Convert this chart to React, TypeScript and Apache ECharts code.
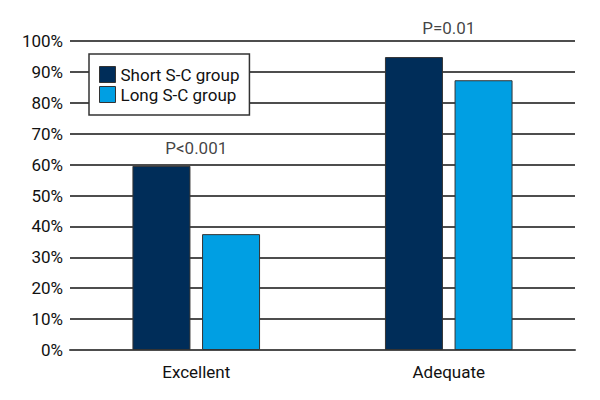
import React, { useEffect, useRef } from "react";
import * as echarts from "echarts";

const categories = ["Excellent", "Adequate"];
const shortGroup = [59.6, 94.8];
const longGroup = [37.5, 87.3];
const yTicks = [0, 10, 20, 30, 40, 50, 60, 70, 80, 90, 100];
const pLabels = ["P<0.001", "P=0.01"];
const pLabelY = [65.5, 104.2];

const FONT = "Roboto, 'DejaVu Sans Condensed', sans-serif";
const FS = 17;

export default function App() {
  const ref = useRef<HTMLDivElement>(null);
  useEffect(() => {
    if (!ref.current) return;
    const chart = echarts.init(ref.current, undefined, { renderer: "svg" });
    chart.setOption({
      animation: false,
      backgroundColor: "#ffffff",
      textStyle: { fontFamily: FONT },
      grid: { left: 70, right: 25, top: 41, bottom: 50, containLabel: false },
      legend: {
        data: ["Short S-C group", "Long S-C group"],
        orient: "vertical",
        left: 89,
        top: 54,
        itemWidth: 16,
        itemHeight: 16,
        itemGap: 3,
        padding: [12, 10, 12, 10],
        backgroundColor: "#ffffff",
        borderColor: "#333333",
        borderWidth: 1.5,
        borderRadius: 0,
        icon: "rect",
        itemStyle: { borderColor: "#333", borderWidth: 1 },
        textStyle: { fontFamily: FONT, fontSize: FS, color: "#111" },
      },
      xAxis: {
        type: "category",
        data: categories,
        axisLine: { show: true, lineStyle: { color: "#4d4d4d", width: 2 } },
        axisTick: { show: false },
        axisLabel: { fontFamily: FONT, fontSize: FS, color: "#111", margin: 13 },
      },
      yAxis: {
        type: "value",
        min: yTicks[0],
        max: yTicks[yTicks.length - 1],
        interval: 10,
        axisLine: { show: false },
        axisTick: { show: false },
        splitLine: { lineStyle: { color: "#4d4d4d", width: 2 } },
        axisLabel: {
          fontFamily: FONT,
          fontSize: FS,
          color: "#111",
          margin: 7,
          formatter: (v: number) => `${v}%`,
        },
      },
      series: [
        {
          name: "Short S-C group",
          type: "bar",
          data: shortGroup,
          barWidth: 58,
          barGap: "20%",
          itemStyle: { color: "#002d59", borderColor: "#333", borderWidth: 1 },
          z: 3,
        },
        {
          name: "Long S-C group",
          type: "bar",
          data: longGroup,
          barWidth: 58,
          barGap: "20%",
          itemStyle: { color: "#009fe3", borderColor: "#333", borderWidth: 1 },
          z: 3,
        },
        {
          name: "P",
          type: "scatter",
          data: categories.map((c, i) => [c, pLabelY[i]]),
          symbolSize: 0,
          clip: false,
          silent: true,
          label: {
            show: true,
            position: "inside",
            fontFamily: FONT,
            fontSize: FS,
            color: "#111",
            formatter: (p: any) => pLabels[p.dataIndex],
          },
          z: 5,
        },
      ],
    });
    return () => chart.dispose();
  }, []);
  return <div ref={ref} style={{ width: 600, height: 400, position: "absolute", left: 0, top: 0 }} />;
}
